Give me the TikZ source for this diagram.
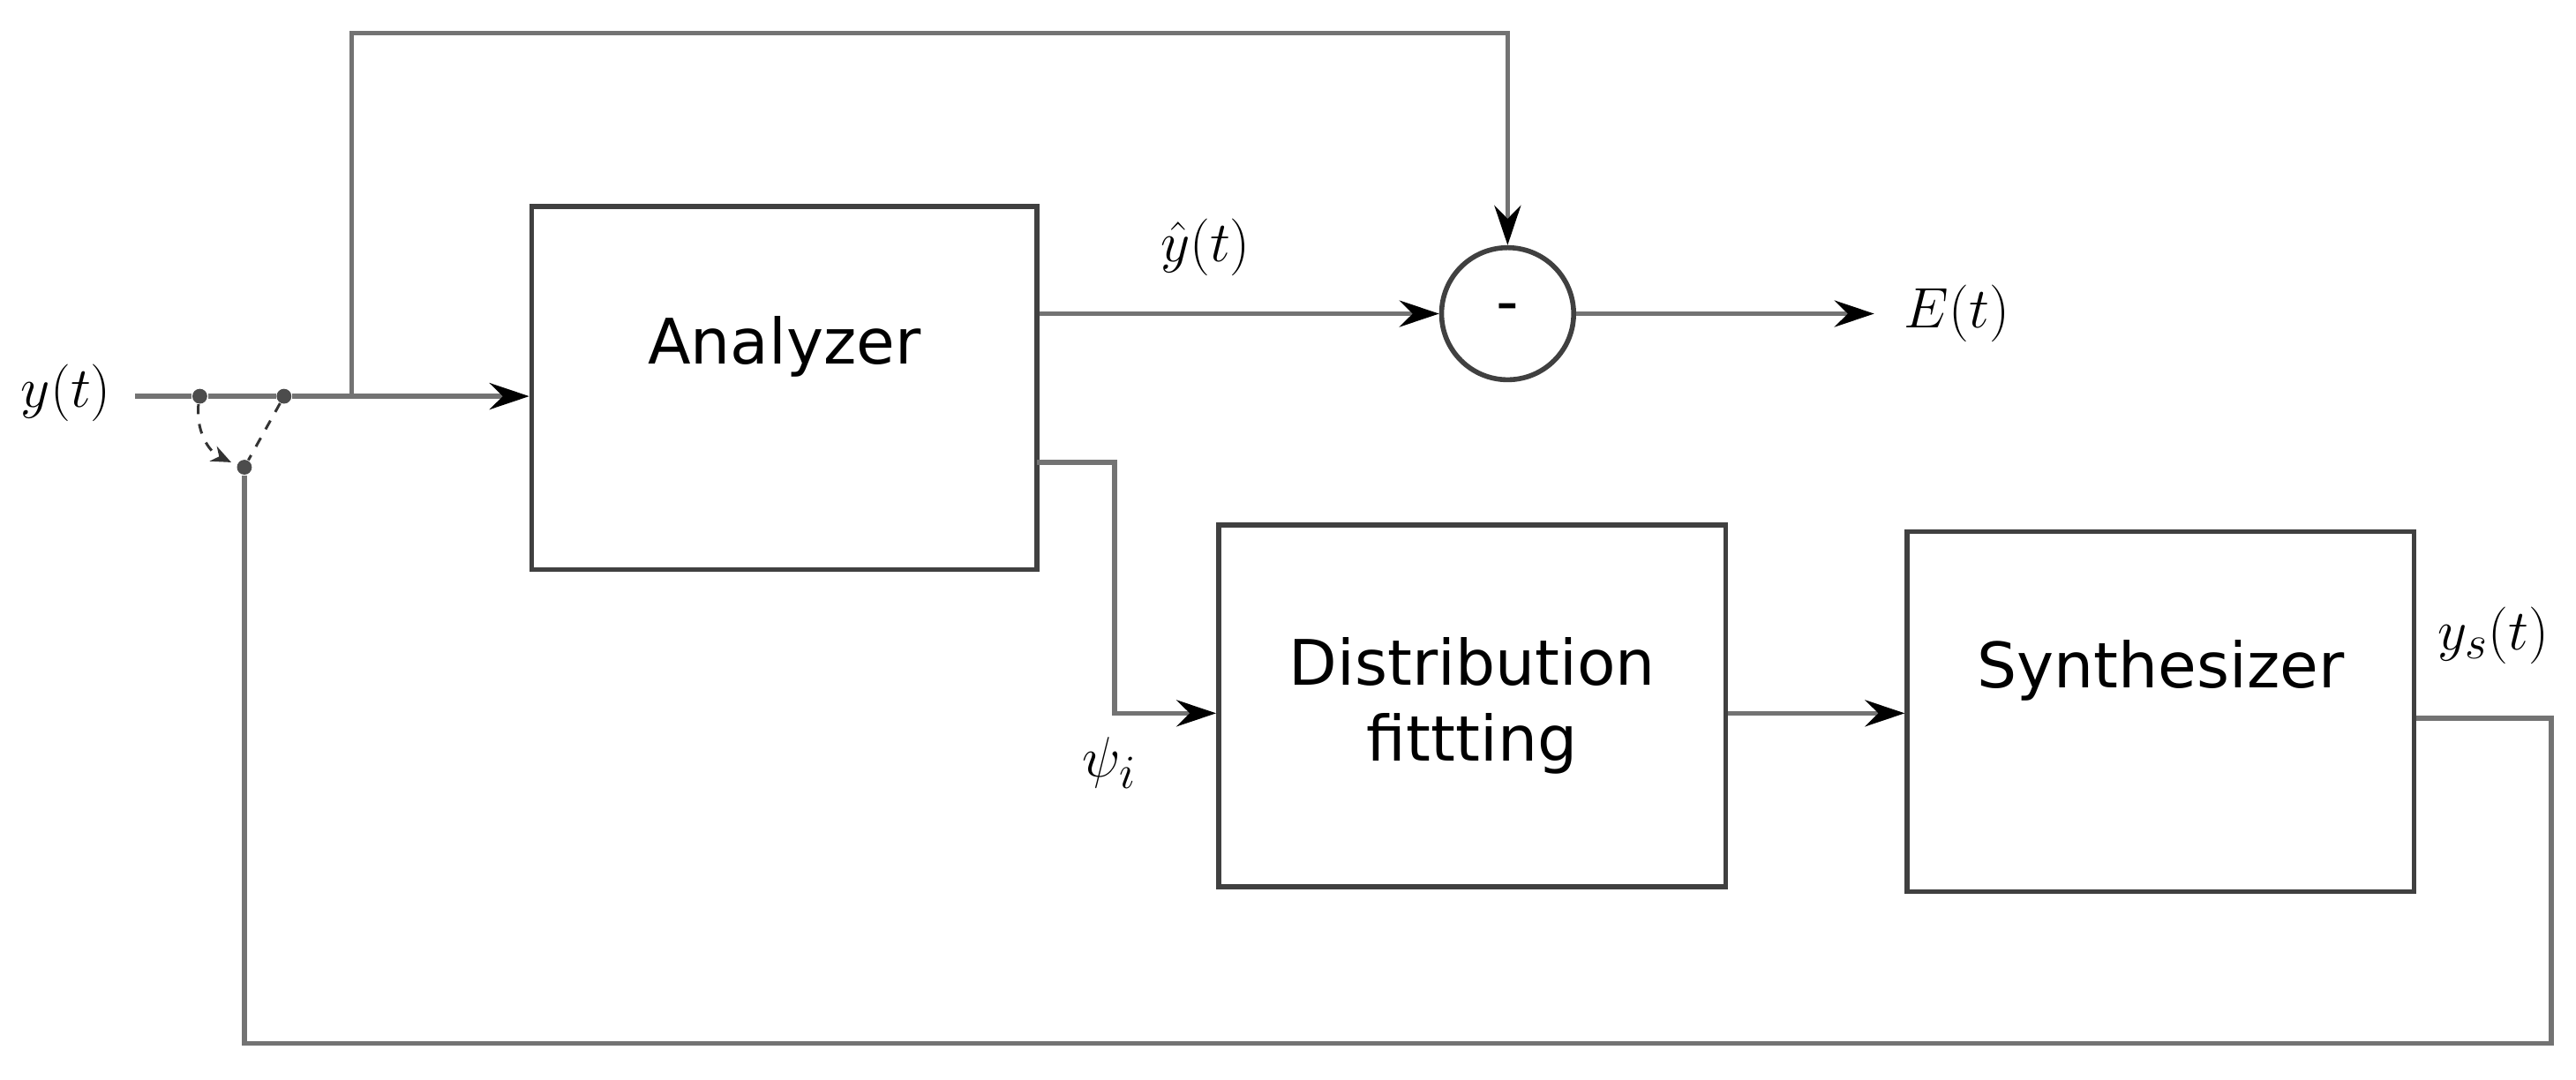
\documentclass[tikz,border=0pt]{standalone}
\usepackage{fontspec}
\setmainfont{DejaVu Sans}
\usetikzlibrary{arrows.meta}
\begin{document}
\begin{tikzpicture}[x=0.5pt,y=-0.5pt,
  box/.style={draw=black!75,line width=1.5pt,fill=white,inner sep=0pt,font=\fontsize{19}{23}\selectfont,align=center},
  ln/.style={draw=black!55,line width=1.5pt},
  arr/.style={ln,-{Stealth[length=12pt,width=8pt,inset=4pt,black]}},
  dot/.style={circle,fill=black!70,inner sep=0pt,minimum size=4.5pt},
  lbl/.style={font=\fontsize{19}{23}\selectfont}]
\useasboundingbox (0,0) rectangle (1560,654);
\node[box,minimum width=153pt,minimum height=110pt] (an) at (475,235) {Analyzer\\[6pt]\mbox{}};
\node[box,minimum width=153.5pt,minimum height=109.5pt] (df) at (891.5,427.5) {Distribution\\fittting};
\node[box,minimum width=153.5pt,minimum height=109pt] (sy) at (1308.5,431) {Synthesizer\\[6pt]\mbox{}};
\node[circle,draw=black!75,line width=1.5pt,minimum size=40pt,inner sep=0pt,font=\fontsize{19}{23}\selectfont] (sum) at (913,190) {-};
\node[dot] (d1) at (121,240) {};
\node[dot] (d2) at (172,240) {};
\node[dot] (d3) at (148,283) {};
\coordinate (in) at (82,240);
\coordinate (br) at (213,240);
\coordinate (eo) at (1135,190);
\node[lbl] (ly) at (40,238) {$y(t)$};
\node[lbl] (lyh) at (730,150) {$\hat{y}(t)$};
\node[lbl] (le) at (1185,190) {$E(t)$};
\node[lbl] (lpsi) at (672,462) {$\psi_i$};
\node[lbl] (lys) at (1510,385) {$y_s(t)$};
\draw[ln] (in) -- (d1) -- (d2) -- (br);
\draw[arr] (br) -- (an.west |- br);
\draw[arr] (br) -- (213,20) -- (913,20) -- (sum.north);
\draw[arr] (an.east |- sum) -- (sum.west);
\draw[arr] (sum.east) -- (eo);
\draw[arr] (628,280) -- (675,280) -- (675,432) -- (df.west |- 0,432);
\draw[arr] (df.east |- 0,432) -- (sy.west |- 0,432);
\draw[ln] (sy.east |- 0,435) -- (1545,435) -- (1545,632) -- (148,632) -- (d3);
\draw[black!80,line width=0.8pt,dash pattern=on 3pt off 3pt] (d2) -- (d3);
\draw[black!80,line width=0.8pt,dash pattern=on 3pt off 3pt,-{Stealth[length=6pt,width=5pt]}] (d1) to[bend right=35] (140,280);
\end{tikzpicture}
\end{document}
